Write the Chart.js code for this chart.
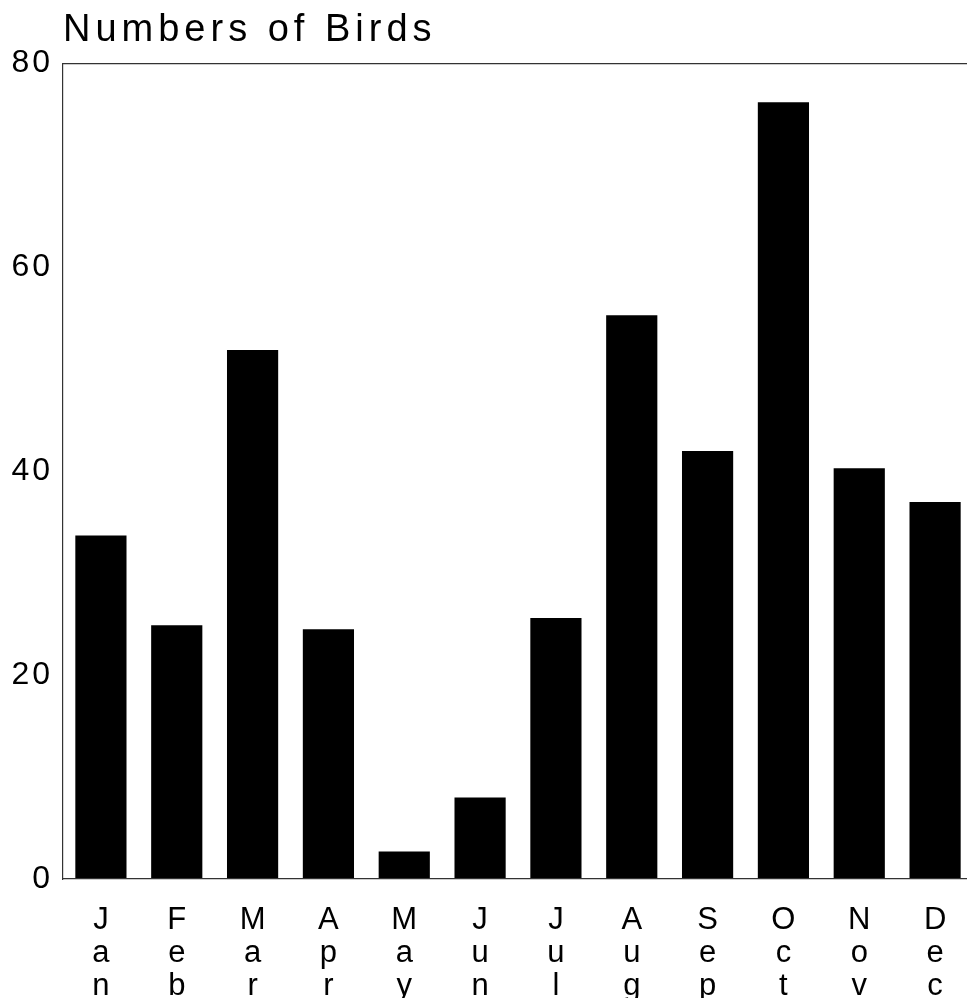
<!DOCTYPE html>
<html>
<head>
<meta charset="utf-8">
<script src="https://cdn.jsdelivr.net/npm/chart.js@4"></script>
<style>
  html, body { margin: 0; padding: 0; background: #fff; overflow: hidden; }
  #wrap { position: relative; width: 973px; height: 1005px; }
</style>
</head>
<body>
<div id="wrap"><canvas id="c"></canvas></div>
<script>
// ---- data ----
const months = ['Jan','Feb','Mar','Apr','May','Jun','Jul','Aug','Sep','Oct','Nov','Dec'];
const birdCounts = [33.7, 24.9, 51.9, 24.5, 2.7, 8.0, 25.6, 55.3, 42.0, 76.2, 40.3, 37.0];
const yTicks = [0, 20, 40, 60, 80];
const titleText = 'Numbers of Birds';

// labels stacked letter by letter
const monthLabels = months.map(m => m.split(''));

// wide letter spacing for the title (drawn before datasets), lighter for tick labels (drawn after)
const spacingPlugin = {
  id: 'spacing',
  beforeUpdate(chart) { chart.ctx.letterSpacing = '3px'; },
  beforeLayout(chart) { chart.ctx.letterSpacing = '3px'; },
  beforeDraw(chart) { chart.ctx.letterSpacing = '5px'; },
  beforeDatasetsDraw(chart) { chart.ctx.letterSpacing = '3px'; }
};

const topLinePlugin = {
  id: 'topLine',
  afterDraw(chart) {
    const {ctx, chartArea} = chart;
    ctx.save();
    ctx.strokeStyle = '#333';
    ctx.lineWidth = 1.2;
    ctx.beginPath();
    ctx.moveTo(chartArea.left, chartArea.top);
    ctx.lineTo(chart.width, chartArea.top);
    ctx.stroke();
    ctx.restore();
  }
};

const FONT = '"Liberation Sans", Arial, Helvetica, sans-serif';

new Chart(document.getElementById('c'), {
  type: 'bar',
  data: {
    labels: monthLabels,
    datasets: [{
      data: birdCounts,
      backgroundColor: '#000',
      borderWidth: 0,
      barPercentage: 0.675,
      categoryPercentage: 1.0
    }]
  },
  options: {
    responsive: true,
    maintainAspectRatio: false,
    animation: false,
    layout: { padding: 0 },
    plugins: {
      legend: { display: false },
      tooltip: { enabled: false },
      title: {
        display: true,
        text: titleText,
        align: 'start',
        fullSize: false,
        color: '#000',
        font: { family: FONT, size: 38, weight: 'normal', lineHeight: 1.2 },
        padding: { top: 8, bottom: 10 }
      }
    },
    scales: {
      x: {
        afterFit(scale) { scale.height = 126; },
        grid: { display: false, drawTicks: false },
        border: { display: true, color: '#333', width: 1.2, z: 1 },
        ticks: {
          z: 1,
          color: '#000',
          padding: 25,
          labelOffset: 1.5,
          maxRotation: 0,
          autoSkip: false,
          font: { family: FONT, size: 31, lineHeight: 1.07 }
        }
      },
      y: {
        min: 0,
        max: 80,
        afterFit(scale) { scale.width = 63; },
        afterBuildTicks(scale) { scale.ticks = yTicks.map(v => ({ value: v })); },
        grid: { display: false, drawTicks: false },
        border: { display: true, color: '#333', width: 1.2, z: 1 },
        ticks: {
          z: 1,
          color: '#000',
          padding: 10,
          font: { family: FONT, size: 32 }
        }
      }
    }
  },
  plugins: [spacingPlugin, topLinePlugin]
});
</script>
</body>
</html>
